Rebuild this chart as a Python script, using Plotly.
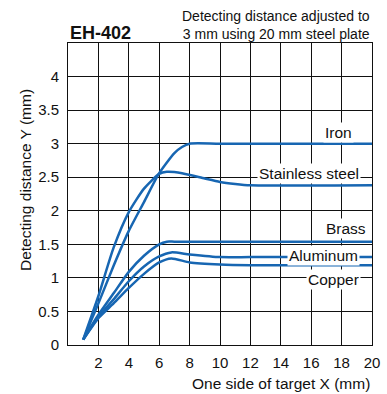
import plotly.graph_objects as go

# ---- data ----
series_names = ["Iron", "Stainless steel", "Brass", "Aluminum", "Copper"]

iron_x = [1, 2, 3, 4, 5, 6, 7, 7.5, 8, 10, 20]
iron_y = [0.08, 0.62, 1.18, 1.7, 2.13, 2.56, 2.86, 2.95, 3.0, 3.0, 3.0]

stainless_x = [1, 2, 3, 4, 5, 6, 6.5, 7.5, 9, 10, 11, 12, 20]
stainless_y = [0.08, 0.73, 1.45, 1.98, 2.33, 2.55, 2.58, 2.56, 2.48, 2.43, 2.4, 2.38, 2.38]

brass_x = [1, 2, 3, 4, 5, 6, 6.5, 7, 10, 20]
brass_y = [0.08, 0.45, 0.77, 1.09, 1.33, 1.5, 1.54, 1.54, 1.54, 1.54]

aluminum_x = [1, 2, 3, 4, 5, 6, 6.8, 8, 10, 12, 20]
aluminum_y = [0.08, 0.42, 0.68, 0.95, 1.17, 1.32, 1.38, 1.35, 1.31, 1.31, 1.31]

copper_x = [1, 2, 3, 4, 5, 6, 6.8, 8, 10, 12, 20]
copper_y = [0.08, 0.4, 0.62, 0.85, 1.06, 1.23, 1.29, 1.23, 1.2, 1.19, 1.19]

# label anchor positions (data coords)
label_x = [17.8, 15.85, 18.3, 16.8, 17.45]
label_y = [3.16, 2.56, 1.74, 1.33, 0.97]

x_ticks = [2, 4, 6, 8, 10, 12, 14, 16, 18, 20]
y_ticks = [0, 0.5, 1, 1.5, 2, 2.5, 3, 3.5, 4]
y_ticktext = ["0", "0.5", "1", "1.5", "2", "2.5", "3", "3.5", "4"]

LINE = "#1766b2"
GRID = "#111111"
FONT = "Liberation Sans, Arial, sans-serif"

fig = go.Figure()
for xs, ys, nm in [(iron_x, iron_y, series_names[0]),
                   (stainless_x, stainless_y, series_names[1]),
                   (brass_x, brass_y, series_names[2]),
                   (aluminum_x, aluminum_y, series_names[3]),
                   (copper_x, copper_y, series_names[4])]:
    fig.add_trace(go.Scatter(x=xs, y=ys, mode="lines", name=nm,
                             line=dict(color=LINE, width=2.5, shape="spline", smoothing=0.6),
                             showlegend=False, hoverinfo="skip"))

for nm, lx, ly in zip(series_names, label_x, label_y):
    fig.add_annotation(x=lx, y=ly, xref="x", yref="y", text=nm, showarrow=False,
                       font=dict(family=FONT, size=15.5, color="#111"),
                       bgcolor="white", borderpad=1)

W, H = 387, 394
L, R, T, B = 68, 15, 43, 49
pw, ph = W - L - R, H - T - B

def px(x):
    return (x - L) / pw

def py(y):
    return (H - B - y) / ph

fig.add_annotation(xref="paper", yref="paper", x=px(25), y=py(180), xanchor="center", yanchor="middle",
                   text="Detecting distance Y (mm)",
                   textangle=-90, showarrow=False, font=dict(family=FONT, size=15.5, color="#111"))
fig.add_annotation(xref="paper", yref="paper", x=1, xanchor="right", y=py(383), yanchor="middle",
                   text="One side of target X (mm)",
                   showarrow=False, font=dict(family=FONT, size=15.5, color="#111"))
fig.add_annotation(xref="paper", yref="paper", x=0, xanchor="left", y=py(33), yanchor="middle",
                   text="<b>EH-402</b>",
                   showarrow=False, font=dict(family=FONT, size=18, color="#111"))
fig.add_annotation(xref="paper", yref="paper", x=1, xanchor="right", y=py(25), yanchor="middle",
                   text="Detecting distance adjusted to<br>3 mm using 20 mm steel plate",
                   align="right", showarrow=False, font=dict(family=FONT, size=14, color="#111"))

fig.update_layout(
    width=W, height=H, autosize=False, margin=dict(l=L, r=R, t=T, b=B, pad=0, autoexpand=False),
    paper_bgcolor="white", plot_bgcolor="white",
    font=dict(family=FONT, size=15, color="#111"),
    xaxis=dict(range=[0, 20], tickvals=x_ticks, showgrid=True, gridcolor=GRID, gridwidth=1,
               showline=True, linecolor=GRID, linewidth=1, mirror=True, zeroline=False,
               ticks="", ticklabelstandoff=4, automargin=False),
    yaxis=dict(range=[0, 4.5], tickvals=y_ticks, ticktext=y_ticktext, showgrid=True,
               gridcolor=GRID, gridwidth=1, showline=True, linecolor=GRID, linewidth=1,
               mirror=True, zeroline=False, ticks="", ticklabelstandoff=5, automargin=False),
)

fig.write_html("out.html", config={"displayModeBar": False, "responsive": False},
               post_script="document.body.style.margin='0';document.body.style.overflow='hidden';")
